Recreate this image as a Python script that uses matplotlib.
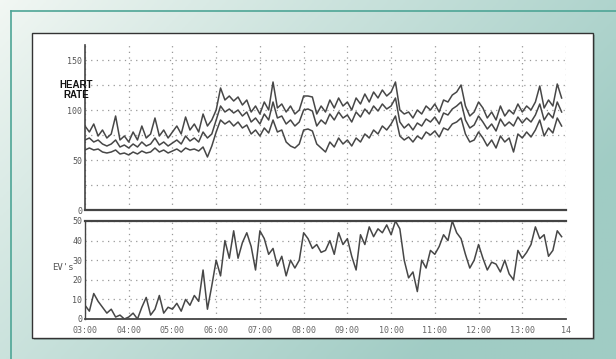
import numpy as np
import matplotlib
matplotlib.use("Agg")
import matplotlib.pyplot as plt
from matplotlib.patches import Rectangle

# Heart rate, three traces (bpm), one value every 6 minutes from 03:00
hr_high = [84, 78, 86, 74, 80, 72, 76, 94, 70, 74,
           68, 78, 70, 84, 72, 76, 92, 74, 80, 72,
           78, 84, 76, 93, 80, 86, 78, 96, 84, 90,
           100, 122, 110, 114, 109, 113, 105, 110, 98, 104,
           96, 108, 100, 128, 102, 106, 98, 104, 96, 100,
           114, 114, 113, 96, 104, 98, 110, 102, 112, 104,
           108, 100, 112, 106, 116, 108, 118, 112, 120, 114,
           118, 128, 100, 96, 98, 92, 100, 96, 104, 100,
           106, 98, 110, 108, 115, 118, 125, 104, 94, 98,
           108, 102, 92, 98, 90, 104, 94, 100, 96, 106,
           98, 104, 100, 108, 124, 102, 110, 104, 126, 112]
hr_mid = [70, 72, 68, 70, 66, 64, 66, 70, 63, 65,
          62, 66, 63, 68, 64, 66, 72, 65, 68, 64,
          67, 70, 66, 74, 69, 72, 68, 78, 72, 76,
          90, 104, 98, 101, 97, 100, 94, 98, 88, 92,
          86, 96, 90, 108, 92, 94, 86, 90, 84, 88,
          100, 101, 99, 84, 90, 86, 96, 90, 98, 92,
          95, 88, 98, 93, 101, 96, 104, 99, 106, 101,
          104, 112, 88, 82, 86, 80, 87, 84, 91, 88,
          93, 86, 97, 95, 101, 104, 108, 90, 82, 85,
          94, 88, 81, 86, 79, 91, 84, 88, 84, 93,
          87, 92, 88, 95, 106, 90, 97, 92, 108, 98]
hr_low = [60, 62, 60, 61, 58, 57, 58, 60, 56, 57,
          55, 58, 56, 59, 57, 58, 62, 58, 60, 57,
          59, 61, 58, 62, 60, 61, 59, 63, 53, 64,
          78, 90, 86, 89, 84, 88, 82, 85, 76, 80,
          74, 82, 77, 90, 78, 80, 68, 64, 62, 66,
          80, 81, 79, 66, 62, 58, 68, 63, 72, 66,
          70, 64, 72, 68, 76, 72, 80, 76, 84, 80,
          86, 94, 74, 70, 73, 68, 74, 71, 78, 75,
          79, 73, 82, 80, 86, 88, 92, 76, 68, 70,
          78, 72, 64, 70, 62, 74, 68, 72, 58, 76,
          72, 78, 73, 80, 90, 74, 82, 77, 92, 84]

# EV's count, same sampling
evs = [7, 4, 13, 9, 6, 3, 5, 1, 2, 0,
       1, 3, 0, 6, 11, 2, 5, 12, 3, 6,
       5, 8, 4, 10, 7, 12, 9, 25, 5, 17,
       30, 22, 40, 31, 45, 31, 39, 44, 37, 25,
       45, 41, 33, 36, 27, 32, 22, 30, 26, 30,
       44, 41, 36, 38, 34, 35, 40, 33, 44, 38,
       41, 32, 25, 43, 38, 47, 42, 46, 44, 48,
       43, 50, 46, 30, 21, 24, 14, 30, 26, 35,
       33, 37, 43, 40, 50, 44, 41, 33, 26, 30,
       38, 31, 25, 29, 28, 24, 30, 23, 20, 35,
       31, 34, 38, 47, 41, 43, 32, 35, 45, 42]

hours = 3 + np.arange(len(evs)) / 10.0
tick_hours = list(range(3, 15))
tick_labels = ["03:00", "04:00", "05:00", "06:00", "07:00", "08:00", "09:00",
               "10:00", "11:00", "12:00", "13:00", "14"]

W, H = 616, 359
fig = plt.figure(figsize=(W / 100, H / 100), dpi=100)

# green gradient background
bg = fig.add_axes([0, 0, 1, 1], zorder=-10)
xx, yy = np.meshgrid(np.linspace(0, 1, 200), np.linspace(0, 1, 120))
t = np.clip(0.8 * xx + 0.45 * yy, 0, 1) ** 0.9
light = np.array([0.95, 0.97, 0.955])
teal = np.array([0.63, 0.80, 0.77])
img = light * (1 - t[..., None]) + teal * t[..., None]
bg.imshow(img, aspect="auto", extent=[0, 1, 0, 1], origin="upper")
bg.set_xlim(0, 1)
bg.set_ylim(0, 1)
bg.axis("off")

# outer teal frame line (left / top)
bg.plot([11 / W, 11 / W], [0, 1 - 11 / H], color="#4ea596", lw=1.2)
bg.plot([11 / W, 1], [1 - 11 / H, 1 - 11 / H], color="#4ea596", lw=1.2)

# white panel with shadow
px0, py0, px1, py1 = 32, 33, 593, 338
bg.add_patch(Rectangle(((px0 + 2) / W, 1 - (py1 + 2) / H), (px1 - px0) / W, (py1 - py0) / H,
                       facecolor="#7a9a94", edgecolor="none", alpha=0.6))
bg.add_patch(Rectangle((px0 / W, 1 - py1 / H), (px1 - px0) / W, (py1 - py0) / H,
                       facecolor="white", edgecolor="#333333", lw=1.0))

ax_l = 85 / W
ax_w = (566 - 85) / W
grid_kw = dict(color="#999999", lw=0.9, linestyle=(0, (1, 3.5)))
mono = "DejaVu Sans Mono"
trace = dict(color="#474747", lw=1.1)

# ---- heart rate ----
ax1 = fig.add_axes([ax_l, 1 - 210 / H, ax_w, (210 - 45) / H])
ax1.patch.set_alpha(0)
for s in (hr_high, hr_mid, hr_low):
    ax1.plot(hours, s, **trace)
ax1.set_xlim(3, 14)
ax1.set_ylim(0, 165)
ax1.set_yticks([0, 25, 50, 75, 100, 125, 150])
ax1.set_yticklabels(["0", "", "50", "", "100", "", "150"], family=mono, fontsize=6,
                    color="#555555")
ax1.set_xticks(tick_hours)
ax1.set_xticklabels([])
ax1.grid(True, **grid_kw)
ax1.tick_params(length=0, pad=2)
for sp in ("top", "right"):
    ax1.spines[sp].set_visible(False)
ax1.spines["left"].set_color("#444444")
ax1.spines["left"].set_linewidth(1.2)
ax1.spines["bottom"].set_color("#444444")
ax1.spines["bottom"].set_linewidth(1.6)

fig.text(76 / W, 1 - 90 / H, "HEART\nRATE", ha="center", va="center", fontsize=7,
         fontweight="bold", family="Liberation Sans", linespacing=0.95, color="#111111")

# ---- EV's ----
ax2 = fig.add_axes([ax_l, 1 - 319 / H, ax_w, (319 - 221) / H])
ax2.patch.set_alpha(0)
ax2.plot(hours, evs, **trace)
ax2.set_xlim(3, 14)
ax2.set_ylim(0, 50)
ax2.set_yticks([0, 10, 20, 30, 40, 50])
ax2.set_yticklabels(["0", "10", "20", "30", "40", "50"], family=mono, fontsize=6,
                    color="#555555")
ax2.set_xticks(tick_hours)
ax2.set_xticklabels(tick_labels, family=mono, fontsize=6, color="#666666")
ax2.grid(True, **grid_kw)
ax2.tick_params(length=0, pad=2)
ax2.tick_params(axis="x", pad=5)
ax2.spines["right"].set_visible(False)
for sp in ("top", "bottom", "left"):
    ax2.spines[sp].set_color("#444444")
ax2.spines["top"].set_linewidth(1.6)
ax2.spines["bottom"].set_linewidth(1.3)
ax2.spines["left"].set_linewidth(1.0)

fig.text(63 / W, 1 - 268 / H, "EV's", ha="center", va="center", fontsize=6.5,
         family=mono, color="#555555")

fig.savefig("out.png", dpi=100)
